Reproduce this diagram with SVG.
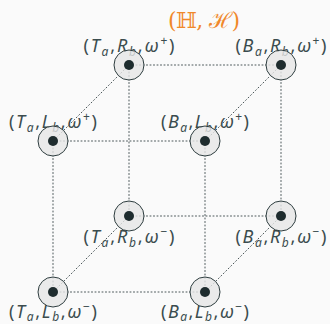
<svg xmlns="http://www.w3.org/2000/svg" width="330" height="324" viewBox="0 0 330 324">
<style>
.lbl{font-family:"Noto Sans","DejaVu Sans",sans-serif;font-size:18px;fill:#3b4c4e;text-anchor:middle}
.i{font-style:italic}
.s{font-size:12px;font-style:italic}
.p{font-size:12px}
.edge{stroke:#4a5658;stroke-width:1;stroke-dasharray:1 2.5;fill:none;stroke-linecap:round}
.ring{fill:#e6e6e6;fill-opacity:0.8;stroke:#2e3d3f;stroke-width:1}
.dot{fill:#1e2c2e}
.title{font-family:"DejaVu Serif",serif;font-size:22px;fill:#f0882a;text-anchor:middle}
</style>
<rect width="330" height="324" fill="#fafafa"/>
<text class="title" x="204" y="28" textLength="72" lengthAdjust="spacing">(ℍ, ℋ)</text>
<g id="labels">
<text class="lbl" x="129" y="52" textLength="91" lengthAdjust="spacing">(<tspan class="i">T</tspan><tspan class="s" dy="4">a</tspan><tspan dy="-4">,</tspan><tspan class="i">R</tspan><tspan class="s" dy="4">b</tspan><tspan dy="-4">,</tspan><tspan class="i">ω</tspan><tspan class="p" dy="-7">+</tspan><tspan dy="7">)</tspan></text>
<text class="lbl" x="281" y="52" textLength="91" lengthAdjust="spacing">(<tspan class="i">B</tspan><tspan class="s" dy="4">a</tspan><tspan dy="-4">,</tspan><tspan class="i">R</tspan><tspan class="s" dy="4">b</tspan><tspan dy="-4">,</tspan><tspan class="i">ω</tspan><tspan class="p" dy="-7">+</tspan><tspan dy="7">)</tspan></text>
<text class="lbl" x="53" y="128" textLength="88" lengthAdjust="spacing">(<tspan class="i">T</tspan><tspan class="s" dy="4">a</tspan><tspan dy="-4">,</tspan><tspan class="i">L</tspan><tspan class="s" dy="4">b</tspan><tspan dy="-4">,</tspan><tspan class="i">ω</tspan><tspan class="p" dy="-7">+</tspan><tspan dy="7">)</tspan></text>
<text class="lbl" x="205" y="128" textLength="88" lengthAdjust="spacing">(<tspan class="i">B</tspan><tspan class="s" dy="4">a</tspan><tspan dy="-4">,</tspan><tspan class="i">L</tspan><tspan class="s" dy="4">b</tspan><tspan dy="-4">,</tspan><tspan class="i">ω</tspan><tspan class="p" dy="-7">+</tspan><tspan dy="7">)</tspan></text>
<text class="lbl" x="129" y="243" textLength="91" lengthAdjust="spacing">(<tspan class="i">T</tspan><tspan class="s" dy="4">a</tspan><tspan dy="-4">,</tspan><tspan class="i">R</tspan><tspan class="s" dy="4">b</tspan><tspan dy="-4">,</tspan><tspan class="i">ω</tspan><tspan class="p" dy="-7">−</tspan><tspan dy="7">)</tspan></text>
<text class="lbl" x="281" y="243" textLength="91" lengthAdjust="spacing">(<tspan class="i">B</tspan><tspan class="s" dy="4">a</tspan><tspan dy="-4">,</tspan><tspan class="i">R</tspan><tspan class="s" dy="4">b</tspan><tspan dy="-4">,</tspan><tspan class="i">ω</tspan><tspan class="p" dy="-7">−</tspan><tspan dy="7">)</tspan></text>
<text class="lbl" x="53" y="318" textLength="88" lengthAdjust="spacing">(<tspan class="i">T</tspan><tspan class="s" dy="3">a</tspan><tspan dy="-3">,</tspan><tspan class="i">L</tspan><tspan class="s" dy="3">b</tspan><tspan dy="-3">,</tspan><tspan class="i">ω</tspan><tspan class="p" dy="-7">−</tspan><tspan dy="7">)</tspan></text>
<text class="lbl" x="205" y="318" textLength="88" lengthAdjust="spacing">(<tspan class="i">B</tspan><tspan class="s" dy="3">a</tspan><tspan dy="-3">,</tspan><tspan class="i">L</tspan><tspan class="s" dy="3">b</tspan><tspan dy="-3">,</tspan><tspan class="i">ω</tspan><tspan class="p" dy="-7">−</tspan><tspan dy="7">)</tspan></text>
</g>
<g id="connectors">
<line class="edge" x1="129" y1="65" x2="281" y2="65"/>
<line class="edge" x1="129" y1="65" x2="129" y2="216"/>
<line class="edge" x1="281" y1="65" x2="281" y2="216"/>
<line class="edge" x1="129" y1="216" x2="281" y2="216"/>
<line class="edge" x1="53" y1="141" x2="205" y2="141"/>
<line class="edge" x1="53" y1="141" x2="53" y2="292"/>
<line class="edge" x1="205" y1="141" x2="205" y2="292"/>
<line class="edge" x1="53" y1="292" x2="205" y2="292"/>
<line class="edge" x1="129" y1="65" x2="53" y2="141"/>
<line class="edge" x1="281" y1="65" x2="205" y2="141"/>
<line class="edge" x1="129" y1="216" x2="53" y2="292"/>
<line class="edge" x1="281" y1="216" x2="205" y2="292"/>
</g>
<g id="n_TaRbWp"><circle class="ring" cx="129" cy="65" r="15"/><circle class="dot" cx="129" cy="65" r="5"/></g>
<g id="n_BaRbWp"><circle class="ring" cx="281" cy="65" r="15"/><circle class="dot" cx="281" cy="65" r="5"/></g>
<g id="n_TaLbWp"><circle class="ring" cx="53" cy="141" r="15"/><circle class="dot" cx="53" cy="141" r="5"/></g>
<g id="n_BaLbWp"><circle class="ring" cx="205" cy="141" r="15"/><circle class="dot" cx="205" cy="141" r="5"/></g>
<g id="n_TaRbWm"><circle class="ring" cx="129" cy="216" r="15"/><circle class="dot" cx="129" cy="216" r="5"/></g>
<g id="n_BaRbWm"><circle class="ring" cx="281" cy="216" r="15"/><circle class="dot" cx="281" cy="216" r="5"/></g>
<g id="n_TaLbWm"><circle class="ring" cx="53" cy="292" r="15"/><circle class="dot" cx="53" cy="292" r="5"/></g>
<g id="n_BaLbWm"><circle class="ring" cx="205" cy="292" r="15"/><circle class="dot" cx="205" cy="292" r="5"/></g>
</svg>
